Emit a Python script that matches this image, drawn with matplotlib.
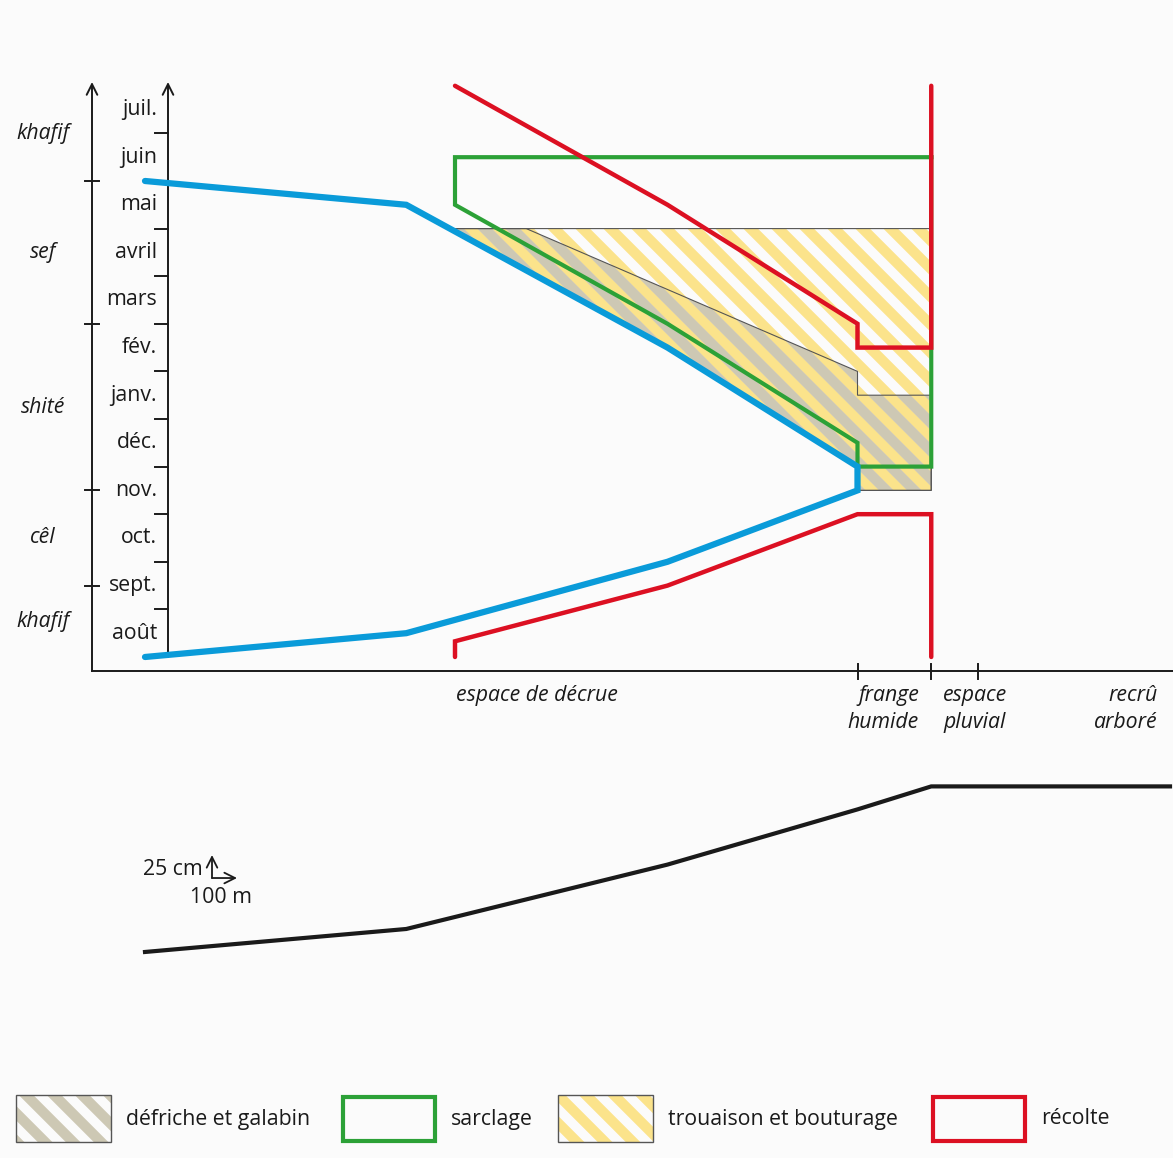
""" calendrier agricole de la culture de decrue """

import numpy
import matplotlib
matplotlib.use("Agg")
import matplotlib.pyplot
import matplotlib.patches
import matplotlib.collections

OUTPUT = "out.png"

# vertical scale of the calendar: months since the start of aout
MONTHS = ["août", "sept.", "oct.", "nov.", "déc.", "janv.", "fév.", "mars", "avril", "mai", "juin", "juil."]
SEASONS = ["khafif", "cêl", "shité", "sef", "khafif"]
SEASON_BOUNDS = [0.0, 1.5, 3.5, 7.0, 10.0, 12.0]

# horizontal scale: distance from the river [m]
BLUE_X = [0, 1045, 2090, 2850, 2850, 2090, 1045, 0]
BLUE_Y = [10.0, 9.5, 6.5, 4.0, 3.5, 2.0, 0.5, 0.0]

GREEN_X = [3145, 1240, 1240, 2090, 2850, 2850, 3145, 3145]
GREEN_Y = [10.5, 10.5, 9.5, 7.0, 4.5, 4.0, 4.0, 10.5]

RED_TOP_X = [1240, 2090, 2850, 2850, 3145, 3145]
RED_TOP_Y = [12.0, 9.5, 7.0, 6.5, 6.5, 12.0]
RED_LOW_X = [1240, 1240, 2090, 2850, 3145, 3145]
RED_LOW_Y = [0.0, 0.33, 1.5, 3.0, 3.0, 0.0]

# trouaison: from the top line down to the flood line
PLANT_TOP = 9.0
PLANT_X = [3145, 3145, 2850, 2850, 2090]
PLANT_Y = [9.0, 3.5, 3.5, 4.0, 6.5]
# defriche: under the thin line
CLEAR_X = [1525, 2850, 2850, 3145, 3145, 2850, 2850, 2090]
CLEAR_Y = [9.0, 6.0, 5.5, 5.5, 3.5, 3.5, 4.0, 6.5]

ZONE_TICKS = [2850, 3145, 3330]
ZONE_LABELS = ["espace de décrue", "frange\nhumide", "espace\npluvial", "recrû\narboré"]
ZONE_LABEL_X = [1568, 3096, 3192, 4052]

# topographic profile [m], [cm]
PROFILE_X = [0, 1045, 2090, 2850, 3145, 4100]
PROFILE_Z = [0, 25, 95, 155, 180, 180]
SCALE_CM = 25
SCALE_M = 100

LEGEND_LABELS = ["défriche et galabin", "sarclage", "trouaison et bouturage", "récolte"]

BLUE = "#0a9bd9"
GREEN = "#2ca137"
RED = "#dc1022"
YELLOW = "#fbe38b"
GRAY = "#cdc8b4"
EDGE = "#555555"
INK = "#1a1a1a"
BG = "#fbfbfb"

matplotlib.rcParams["font.family"] = ["Open Sans", "DejaVu Sans"]
matplotlib.rcParams["font.size"] = 15.3


def stripes(fig, ax, patch, color, phase):
    # thick diagonal bands, drawn in inches and clipped to the patch
    period = 0.28
    segs = []
    for c in numpy.arange(-period + phase, 11.73 + 11.58 + period, period):
        segs.append([(-1, c + 1), (c + 1, -1)])
    lc = matplotlib.collections.LineCollection(segs, colors=color, linewidths=period * 72 / 2 / 2 ** 0.5 + 0.3,
                                               transform=fig.dpi_scale_trans, zorder=1)
    ax.add_collection(lc, autolim=False)
    lc.set_clip_path(patch)


def plot_calendar():
    fig = matplotlib.pyplot.figure(figsize=(11.73, 11.58), dpi=100, facecolor=BG)

    # ---- calendar
    ax = fig.add_axes([0, 1 - 750 / 1158, 1, 710 / 1158])
    ax.set_xlim(-580, 4112)
    ax.set_ylim(-1.954, 12.962)
    ax.axis("off")

    # left point of the hatched area, on the flood line
    xint = numpy.interp(PLANT_TOP, BLUE_Y[1:3][::-1], BLUE_X[1:3][::-1])

    plant = matplotlib.patches.Polygon(list(zip([xint] + PLANT_X, [PLANT_TOP] + PLANT_Y)), closed=True,
                                       facecolor="none", edgecolor=EDGE, linewidth=0.8, zorder=1.5)
    clear = matplotlib.patches.Polygon(list(zip([xint] + CLEAR_X, [PLANT_TOP] + CLEAR_Y)), closed=True,
                                       facecolor="none", edgecolor=EDGE, linewidth=0.8, zorder=1.5)
    ax.add_patch(plant)
    ax.add_patch(clear)
    stripes(fig, ax, plant, YELLOW, 0.0)
    stripes(fig, ax, clear, GRAY, 0.14)

    ax.plot(GREEN_X, GREEN_Y, color=GREEN, linewidth=3, solid_joinstyle="miter", zorder=3)
    ax.plot(RED_TOP_X, RED_TOP_Y, color=RED, linewidth=3.2, solid_capstyle="round", solid_joinstyle="miter", zorder=3.5)
    ax.plot(RED_LOW_X, RED_LOW_Y, color=RED, linewidth=3.2, solid_capstyle="round", solid_joinstyle="miter", zorder=3.5)
    ax.plot(BLUE_X, BLUE_Y, color=BLUE, linewidth=4.5, solid_capstyle="round", solid_joinstyle="miter", zorder=4)

    # month axis
    xin = 92
    ax.annotate("", xy=(xin, 12.08), xytext=(xin, 0.0),
                arrowprops=dict(arrowstyle="->,head_length=0.5,head_width=0.25", color=INK, linewidth=1.4,
                                shrinkA=0, shrinkB=0))
    for m in range(1, 12):
        ax.plot([40, xin], [m, m], color=INK, linewidth=1.4)
    for m, name in enumerate(MONTHS):
        ax.text(48, m + 0.5, name, ha="right", va="center", color=INK)

    # season axis
    xout = -212
    base = -0.294
    ax.annotate("", xy=(xout, 12.08), xytext=(xout, base),
                arrowprops=dict(arrowstyle="->,head_length=0.5,head_width=0.25", color=INK, linewidth=1.4,
                                shrinkA=0, shrinkB=0))
    for b in SEASON_BOUNDS[1:-1]:
        ax.plot([-240, -184], [b, b], color=INK, linewidth=1.4)
    for i, name in enumerate(SEASONS):
        ax.text(-408, (SEASON_BOUNDS[i] + SEASON_BOUNDS[i + 1]) / 2, name, ha="center", va="center",
                style="italic", color=INK)

    # distance axis
    ax.plot([xout, 4112], [base, base], color=INK, linewidth=1.4)
    for t in ZONE_TICKS:
        ax.plot([t, t], [base + 0.15, base - 0.17], color=INK, linewidth=1.4)
    aligns = ["center", "right", "left", "right"]
    for label, x, ha in zip(ZONE_LABELS, ZONE_LABEL_X, aligns):
        yl = -0.80 if "\n" not in label else -1.09
        ax.text(x, yl, label, ha=ha, va="center", style="italic", color=INK, linespacing=1.38)

    # ---- profile
    axp = fig.add_axes([0, 1 - 1070 / 1158, 1, 310 / 1158])
    axp.set_xlim(-580, 4112)
    axp.set_ylim(-128.3, 208.7)
    axp.axis("off")
    axp.plot(PROFILE_X, PROFILE_Z, color=INK, linewidth=3, solid_joinstyle="miter")

    sx, sz = 268, 80.4
    arrow = dict(arrowstyle="->,head_length=0.5,head_width=0.25", color=INK, linewidth=1.3, shrinkA=0, shrinkB=0)
    axp.annotate("", xy=(sx, sz + SCALE_CM), xytext=(sx, sz), arrowprops=arrow)
    axp.annotate("", xy=(sx + SCALE_M, sz), xytext=(sx, sz), arrowprops=arrow)
    axp.text(sx - 36, sz + 9, "{} cm".format(SCALE_CM), ha="right", va="center", color=INK)
    axp.text(sx + 36, sz - 21, "{} m".format(SCALE_M), ha="center", va="center", color=INK)

    # ---- legend
    axl = fig.add_axes([0, 0, 1, 78 / 1158])
    axl.set_xlim(0, 1173)
    axl.set_ylim(1158, 1080)
    axl.axis("off")
    lefts = [16, 341, 558, 931]
    for i, (label, left) in enumerate(zip(LEGEND_LABELS, lefts)):
        if i in (0, 2):
            box = matplotlib.patches.Rectangle((left, 1095), 95, 47, facecolor="none", edgecolor=EDGE,
                                               linewidth=1.0, zorder=2)
            axl.add_patch(box)
            stripes(fig, axl, box, GRAY if i == 0 else YELLOW, 0.05)
        else:
            box = matplotlib.patches.Rectangle((left + 1.5, 1096.5), 92, 44, facecolor="none",
                                               edgecolor=GREEN if i == 1 else RED, linewidth=3,
                                               joinstyle="miter", zorder=2)
            axl.add_patch(box)
        axl.text(left + 110, 1119, label, ha="left", va="center", color=INK)

    matplotlib.pyplot.savefig(OUTPUT, dpi=100, facecolor=BG)
    matplotlib.pyplot.close()


if __name__ == "__main__":
    plot_calendar()
